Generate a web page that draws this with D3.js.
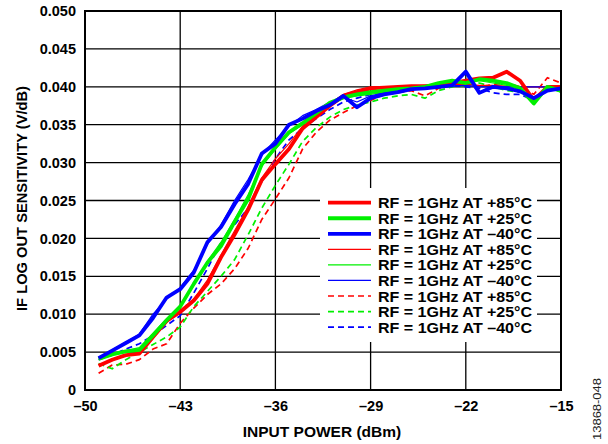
<!DOCTYPE html>
<html><head><meta charset="utf-8">
<script src="https://cdn.jsdelivr.net/npm/d3@7"></script>
<style>body{margin:0;background:#fff}svg{display:block}text{font-family:"Liberation Sans",Arial,sans-serif}</style>
</head><body><svg id="c" width="608" height="444"></svg>
<script>
const inputPower = [-49,-48,-47,-46,-45,-44,-43,-42,-41,-40,-39,-38,-37,-36,-35,-34,-33,-32,-31,-30,-29,-28,-27,-26,-25,-24,-23,-22,-21,-20,-19,-18,-17,-16,-15];
const xTicks = [-50,-43,-36,-29,-22,-15];
const yTicks = [0,0.005,0.010,0.015,0.020,0.025,0.030,0.035,0.040,0.045,0.050];
const yTickLabels = ["0","0.005","0.010","0.015","0.020","0.025","0.030","0.035","0.040","0.045","0.050"];

const redThick   = [.0032,.0040,.0046,.0048,.0070,.0091,.0103,.0118,.0140,.0175,.0205,.0238,.0277,.0298,.0318,.0345,.0360,.0375,.0388,.0393,.0398,.0399,.0400,.0401,.0401,.0402,.0405,.0408,.0411,.0412,.0420,.0408,.0382,.0400,.0400];
const greenThick = [.0041,.0047,.0051,.0053,.0072,.0092,.0110,.0140,.0168,.0190,.0222,.0252,.0298,.0320,.0340,.0352,.0365,.0379,.0386,.0390,.0393,.0395,.0397,.0398,.0400,.0405,.0408,.0405,.0410,.0408,.0405,.0398,.0378,.0400,.0395];
const blueThick  = [.0042,.0052,.0062,.0072,.0095,.0122,.0133,.0155,.0195,.0215,.0245,.0272,.0312,.0325,.0350,.0358,.0368,.0376,.0388,.0373,.0385,.0390,.0393,.0397,.0398,.0400,.0402,.0420,.0392,.0400,.0398,.0394,.0385,.0395,.0398];
const redThin    = [.0033,.0039,.0045,.0050,.0068,.0089,.0105,.0120,.0145,.0178,.0210,.0242,.0280,.0305,.0325,.0348,.0362,.0378,.0390,.0396,.0400,.0400,.0400,.0401,.0402,.0403,.0404,.0403,.0402,.0402,.0401,.0400,.0400,.0400,.0400];
const greenThin  = [.0040,.0046,.0052,.0056,.0075,.0094,.0112,.0138,.0170,.0195,.0225,.0258,.0295,.0318,.0338,.0350,.0362,.0375,.0385,.0388,.0390,.0393,.0395,.0398,.0400,.0403,.0406,.0405,.0408,.0405,.0402,.0396,.0380,.0398,.0395];
const blueThin   = [.0043,.0053,.0063,.0074,.0100,.0120,.0135,.0158,.0192,.0218,.0250,.0278,.0310,.0330,.0348,.0362,.0370,.0380,.0386,.0380,.0388,.0392,.0395,.0397,.0400,.0400,.0401,.0402,.0400,.0400,.0400,.0400,.0400,.0400,.0400];
const redDash    = [.0022,.0033,.0034,.0040,.0054,.0061,.0088,.0108,.0126,.0140,.0160,.0187,.0225,.0252,.0280,.0318,.0340,.0356,.0366,.0375,.0382,.0390,.0392,.0395,.0388,.0398,.0402,.0405,.0400,.0403,.0405,.0400,.0390,.0412,.0405];
const greenDash  = [.0035,.0028,.0040,.0050,.0060,.0070,.0083,.0110,.0130,.0150,.0172,.0205,.0240,.0270,.0298,.0328,.0346,.0360,.0370,.0376,.0380,.0385,.0388,.0390,.0385,.0395,.0400,.0402,.0405,.0400,.0395,.0393,.0380,.0400,.0393];
const blueDash   = [.0040,.0046,.0054,.0061,.0072,.0085,.0098,.0128,.0160,.0195,.0218,.0240,.0275,.0305,.0330,.0345,.0358,.0370,.0380,.0385,.0390,.0393,.0396,.0398,.0399,.0400,.0402,.0400,.0398,.0392,.0390,.0390,.0382,.0398,.0398];

const seriesNames = ["RF = 1GHz AT +85°C","RF = 1GHz AT +25°C","RF = 1GHz AT –40°C","RF = 1GHz AT +85°C","RF = 1GHz AT +25°C","RF = 1GHz AT –40°C","RF = 1GHz AT +85°C","RF = 1GHz AT +25°C","RF = 1GHz AT –40°C"];
const seriesValues = [redThick,greenThick,blueThick,redThin,greenThin,blueThin,redDash,greenDash,blueDash];
const seriesColors = ["#ff0000","#00f000","#0000ff","#ff0000","#00f000","#0000ff","#ff0000","#00f000","#0000ff"];
const seriesStyle = ["thick","thick","thick","thin","thin","thin","dash","dash","dash"];

const L=85,R=561,T=11,B=390;
const svg=d3.select("#c");
const x=d3.scaleLinear().domain([-50,-15]).range([L,R]);
const y=d3.scaleLinear().domain([0,0.05]).range([B,T]);
const sw=st=>st==="thick"?3.8:st==="thin"?1.2:1.7;

// grid
const g=svg.append("g");
g.selectAll(".hg").data(yTicks).join("line").attr("x1",L).attr("x2",R).attr("y1",d=>y(d)).attr("y2",d=>y(d)).attr("stroke","#000").attr("stroke-width",1.3);
g.selectAll(".vg").data(xTicks).join("line").attr("y1",T).attr("y2",B).attr("x1",d=>x(d)).attr("x2",d=>x(d)).attr("stroke","#000").attr("stroke-width",1.3);

// axes labels
const styleTicks=a=>{a.select(".domain").remove();a.selectAll("text").attr("font-size",14.5).attr("font-weight","bold").attr("fill","#000").attr("font-family","Liberation Sans, Arial, sans-serif");};
const yAxis=d3.axisLeft(y).tickValues(yTicks).tickFormat((d,i)=>yTickLabels[i]).tickSize(0).tickPadding(9);
svg.append("g").attr("transform",`translate(${L},0)`).call(yAxis).call(styleTicks);
const xAxis=d3.axisBottom(x).tickValues(xTicks).tickFormat(d=>d<0?"–"+Math.abs(d):d).tickSize(0).tickPadding(11);
svg.append("g").attr("transform",`translate(0,${B})`).call(xAxis).call(styleTicks);

// lines
const line=d3.line().x((d,i)=>x(inputPower[i])).y(d=>y(d));
const order=[6,7,8,3,4,5,0,1,2];
order.forEach(k=>{
  const st=seriesStyle[k];
  svg.append("path").datum(seriesValues[k]).attr("d",line).attr("fill","none")
    .attr("stroke",seriesColors[k]).attr("stroke-width",sw(st))
    .attr("stroke-dasharray",st==="dash"?"6,4":null)
    .attr("stroke-linejoin","round");
});

// border
svg.append("rect").attr("x",L).attr("y",T).attr("width",R-L).attr("height",B-T).attr("fill","none").attr("stroke","#000").attr("stroke-width",2);

// legend
const lg=svg.append("g");
lg.append("rect").attr("x",320).attr("y",188).attr("width",217).attr("height",154).attr("fill","#fff");
seriesNames.forEach((nm,k)=>{
  const yy=202.7+k*15.55;
  const st=seriesStyle[k];
  lg.append("line").attr("x1",328).attr("x2",371).attr("y1",yy).attr("y2",yy)
    .attr("stroke",seriesColors[k]).attr("stroke-width",sw(st))
    .attr("stroke-dasharray",st==="dash"?"6,4":null);
  lg.append("text").attr("x",378).attr("y",yy+5.5).text(nm).attr("font-size",15.5).attr("font-weight","bold").attr("fill","#000").attr("textLength",154).attr("lengthAdjust","spacingAndGlyphs");
});

// axis titles
svg.append("text").attr("x",(L+R)/2-1).attr("y",437).attr("text-anchor","middle").attr("font-size",15.5).attr("font-weight","bold").text("INPUT POWER (dBm)");
svg.append("text").attr("transform",`translate(27,198.5) rotate(-90)`).attr("text-anchor","middle").attr("font-size",14.7).attr("font-weight","bold").text("IF LOG OUT SENSITIVITY (V/dB)");
svg.append("text").attr("transform",`translate(600.5,409) rotate(-90)`).attr("text-anchor","middle").attr("font-size",10.5).attr("fill","#222").attr("textLength",62).attr("lengthAdjust","spacingAndGlyphs").text("13868-048");
</script></body></html>
